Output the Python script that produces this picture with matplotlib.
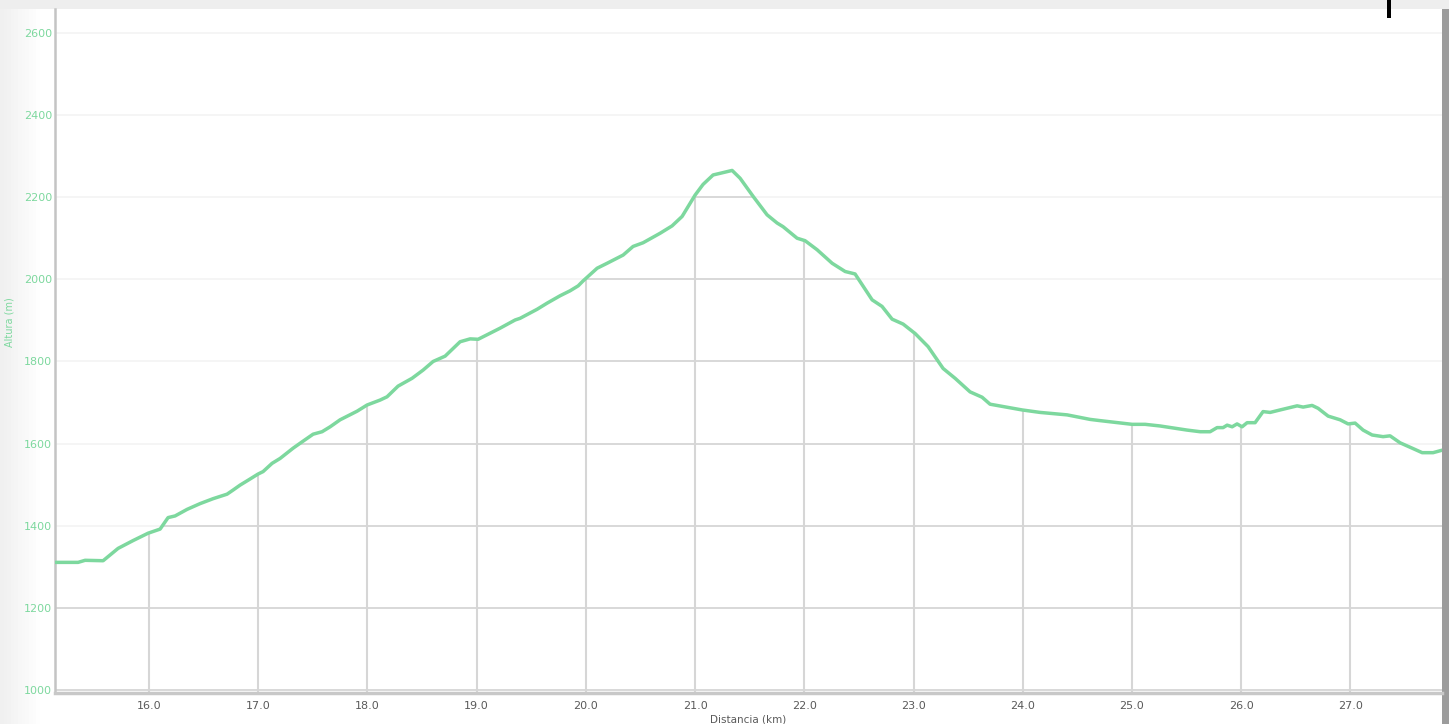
import numpy as np
import matplotlib
matplotlib.use('Agg')
import matplotlib.pyplot as plt
from matplotlib.patches import Polygon, Rectangle

# perfil de altura
dist_km = [15.139, 15.350, 15.414, 15.579, 15.643, 15.716, 15.853, 15.991, 16.101, 16.174,
           16.238, 16.348, 16.467, 16.586, 16.714, 16.769, 16.833, 16.907, 16.998, 17.044,
           17.126, 17.200, 17.319, 17.410, 17.502, 17.584, 17.658, 17.749, 17.905, 17.996,
           18.115, 18.179, 18.280, 18.408, 18.509, 18.601, 18.711, 18.848, 18.940, 19.013,
           19.095, 19.214, 19.352, 19.397, 19.553, 19.645, 19.764, 19.855, 19.929, 19.974,
           20.103, 20.194, 20.341, 20.432, 20.524, 20.679, 20.789, 20.881, 21.000, 21.073,
           21.165, 21.229, 21.339, 21.412, 21.531, 21.659, 21.751, 21.806, 21.934, 22.007,
           22.117, 22.255, 22.374, 22.465, 22.621, 22.712, 22.804, 22.905, 23.015, 23.134,
           23.271, 23.381, 23.518, 23.628, 23.701, 23.995, 24.159, 24.407, 24.617, 24.709,
           25.002, 25.121, 25.258, 25.505, 25.625, 25.716, 25.780, 25.835, 25.872, 25.918,
           25.963, 26.009, 26.055, 26.128, 26.201, 26.266, 26.357, 26.513, 26.568, 26.650,
           26.705, 26.797, 26.907, 26.980, 27.044, 27.117, 27.200, 27.300, 27.364, 27.456,
           27.566, 27.658, 27.758, 27.840]
altura_m = [1311, 1311, 1316, 1315, 1329, 1345, 1364, 1382, 1392, 1420,
            1424, 1440, 1454, 1466, 1477, 1487, 1499, 1511, 1526, 1532,
            1552, 1564, 1589, 1606, 1623, 1629, 1641, 1658, 1679, 1694,
            1706, 1714, 1740, 1759, 1779, 1800, 1813, 1848, 1855, 1854,
            1865, 1881, 1901, 1905, 1927, 1942, 1960, 1972, 1984, 1996,
            2027, 2039, 2059, 2080, 2089, 2112, 2130, 2153, 2205, 2231,
            2254, 2258, 2265, 2246, 2202, 2157, 2137, 2128, 2100, 2094,
            2072, 2039, 2019, 2013, 1950, 1934, 1903, 1891, 1868, 1836,
            1783, 1759, 1726, 1713, 1696, 1682, 1676, 1670, 1659, 1656,
            1647, 1647, 1643, 1633, 1629, 1629, 1639, 1639, 1645, 1641,
            1648, 1641, 1651, 1651, 1678, 1676, 1682, 1692, 1689, 1693,
            1686, 1667, 1658, 1648, 1650, 1633, 1621, 1617, 1619, 1602,
            1589, 1578, 1578, 1584]

y_ticks = [1000, 1200, 1400, 1600, 1800, 2000, 2200, 2400, 2600]
x_ticks = [16, 17, 18, 19, 20, 21, 22, 23, 24, 25, 26, 27]

verde = '#7dd89e'
gris_txt = '#5a5a5a'
ymin, ymax = 993, 2658

fig = plt.figure(figsize=(14.49, 7.24), dpi=100)
fig.patch.set_facecolor('white')

# sombra del marco (detrás de todo)
fig.patches.append(Rectangle((0, 0.988), 1, 0.012, transform=fig.transFigure,
                             facecolor='#eeeeee', edgecolor='none', zorder=-5))
for i in range(12):
    g = 0.94 + 0.06 * i / 11
    fig.patches.append(Rectangle((i * 0.0025, 0), 0.0026, 0.988, transform=fig.transFigure,
                                 facecolor=(g, g, g), edgecolor='none', zorder=-5))
fig.patches.append(Rectangle((0.9952, 0), 0.0048, 0.988, transform=fig.transFigure,
                             facecolor='#9c9c9c', edgecolor='none', zorder=-5))

ax = fig.add_axes([0.038, 0.0428, 0.9572, 0.9448])
ax.set_facecolor('white')
ax.set_xlim(dist_km[0], dist_km[-1])
ax.set_ylim(ymin, ymax)

# lineas de fondo muy claras
for v in y_ticks:
    ax.axhline(v, color='#f4f4f4', lw=1.2, zorder=1)

# rejilla solo bajo la curva
zona = Polygon(np.column_stack([np.r_[dist_km[0], dist_km, dist_km[-1]],
                                np.r_[ymin, altura_m, ymin]]),
               closed=True, facecolor='none', edgecolor='none', transform=ax.transData)
ax.add_patch(zona)
for v in y_ticks:
    ln = ax.axhline(v, color='#d6d6d6', lw=1.3, zorder=2)
    ln.set_clip_path(zona)
for v in x_ticks:
    ln = ax.axvline(v, color='#d6d6d6', lw=1.5, zorder=2)
    ln.set_clip_path(zona)

ax.plot(dist_km, altura_m, color=verde, lw=2.5, zorder=3,
        solid_capstyle='round', solid_joinstyle='round')

for s in ['top', 'right']:
    ax.spines[s].set_visible(False)
ax.spines['left'].set_color('#c4c4c4')
ax.spines['left'].set_linewidth(1.8)
ax.spines['bottom'].set_color('#c8c8c8')
ax.spines['bottom'].set_linewidth(2.5)

ax.set_yticks(y_ticks)
ax.set_yticklabels([str(v) for v in y_ticks])
ax.set_xticks(x_ticks)
ax.set_xticklabels([f'{v:.1f}' for v in x_ticks])
ax.tick_params(axis='y', length=0, pad=2, labelsize=8, labelcolor=verde)
ax.tick_params(axis='x', length=0, pad=6, labelsize=8, labelcolor=gris_txt)

ax.set_ylabel('Altura (m)', color=verde, fontsize=7)
ax.yaxis.set_label_coords(-0.0296, 0.542)
ax.set_xlabel('Distancia (km)', color=gris_txt, fontsize=7.5, labelpad=2)

# marca negra arriba a la derecha
fig.add_artist(Rectangle((0.9575, 0.975), 0.0025, 0.025, transform=fig.transFigure,
                         facecolor='black', edgecolor='none', zorder=10))

plt.savefig('out.png', dpi=100, facecolor=fig.get_facecolor())
